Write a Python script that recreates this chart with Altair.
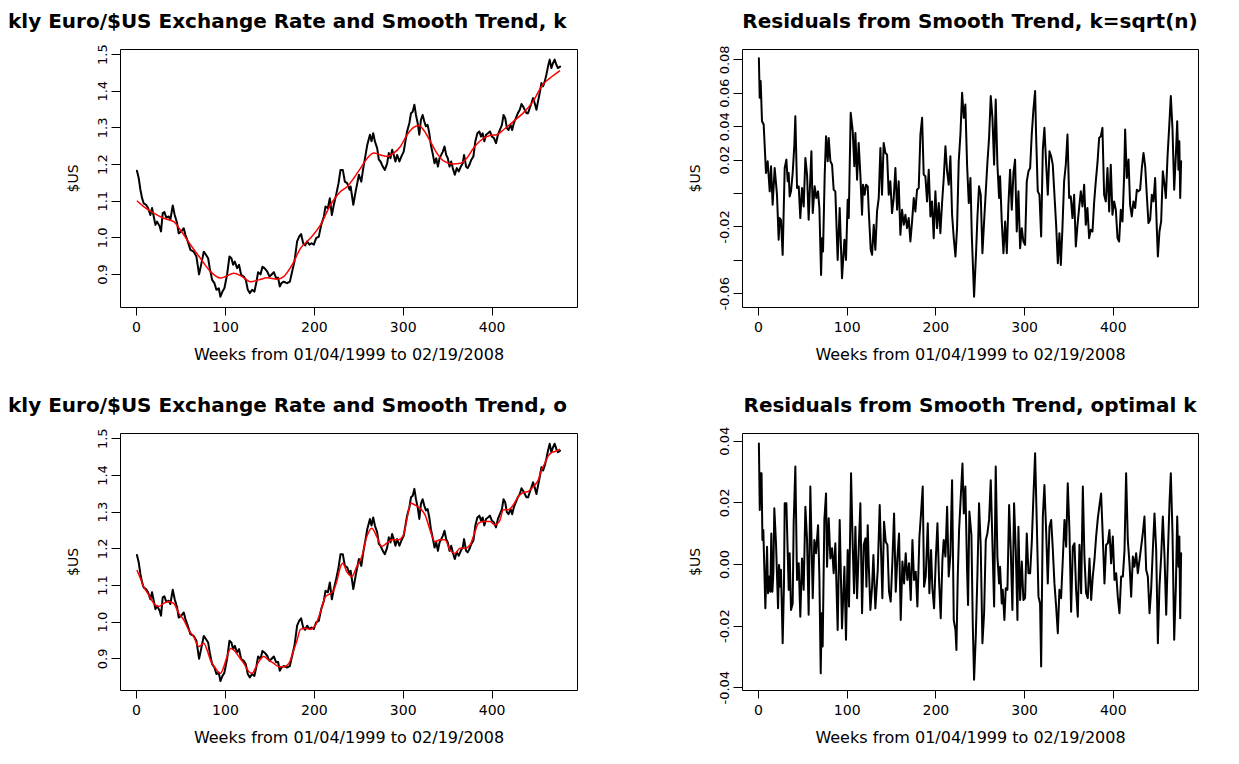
import altair as alt
import pandas as pd

# ---------------- data ----------------
rate_week = [1, 3, 4.9, 6.8, 8.6, 11.3, 13.5, 16.1, 18, 19.9,
             21.8, 23.6, 26.6, 28.1, 30, 31.9, 34.1, 36.8, 38.6, 41.3,
             43.5, 46.2, 48, 50.7, 53.7, 55.5, 58.2, 61.2, 64.9, 67.9,
             70.9, 73.2, 76.2, 78.8, 81.1, 82.9, 85.6, 88.2, 90.4, 93.1,
             94.9, 97.2, 99.4, 102.4, 105.1, 107.3, 109.2, 111.1, 113.7, 115.9,
             118.2, 121.2, 123.5, 125.7, 128, 130.6, 133.2, 135.5, 137.3, 140,
             142.2, 144.5, 147.5, 150.1, 152.3, 155, 157.6, 159.8, 161.7, 163.6,
             166.2, 170, 173, 175.6, 178.2, 181.2, 183.5, 185.7, 188, 190.2,
             192.5, 195.1, 197.4, 200, 202.6, 205.6, 208.3, 211.3, 213.1, 215.8,
             218, 220.3, 222.5, 225.1, 227.8, 230, 232.6, 234.9, 237.5, 240.2,
             241.4, 244.4, 247, 248.9, 250.7, 253.4, 255.6, 258.2, 260.1, 263.1,
             264.9, 266.8, 268.7, 271.3, 273.1, 275, 277.6, 279.9, 282.5, 284.3,
             286.2, 288.1, 289.9, 291.8, 293.7, 296.3, 298.5, 301.1, 303, 304.9,
             307.5, 309.3, 311.2, 313.1, 314.9, 316.8, 318.7, 320.5, 322.4, 324.3,
             326.1, 328, 329.9, 331.7, 334, 335.8, 337.7, 339.6, 341.4, 343.3,
             345.1, 347, 348.9, 350.7, 352.6, 354.5, 356.3, 358.6, 360.8, 363.1,
             365.3, 367.5, 369, 371.3, 373.1, 375, 377.2, 379.5, 381.7, 384,
             386.2, 388.1, 389.9, 391.8, 393.7, 395.9, 398.1, 400.4, 402.6, 404.9,
             407.1, 409.3, 411.6, 413.4, 415.3, 417.2, 419, 421.3, 423.1, 425,
             427.2, 429.5, 431.7, 433.6, 435.4, 437.3, 439.2, 441, 442.9, 444.8,
             446.6, 448.5, 450.4, 452.2, 454.1, 456, 457.8, 459.7, 461.6, 463.4,
             465.3, 467.2, 469, 470.9, 472.8, 474.6, 477]
rate = [1.182, 1.162, 1.130, 1.107, 1.093, 1.089, 1.080, 1.061, 1.080, 1.057,
        1.034, 1.043, 1.030, 1.016, 1.066, 1.069, 1.054, 1.057, 1.048, 1.087,
        1.061, 1.039, 1.011, 1.016, 1.025, 1.007, 0.989, 0.966, 0.961, 0.948,
        0.899, 0.925, 0.961, 0.952, 0.943, 0.916, 0.884, 0.875, 0.857, 0.861,
        0.838, 0.852, 0.861, 0.898, 0.948, 0.943, 0.925, 0.934, 0.916, 0.925,
        0.898, 0.893, 0.884, 0.857, 0.848, 0.857, 0.852, 0.879, 0.905, 0.899,
        0.920, 0.916, 0.907, 0.893, 0.898, 0.905, 0.889, 0.890, 0.866, 0.875,
        0.879, 0.875, 0.879, 0.907, 0.934, 0.989, 1.002, 1.009, 0.984, 0.978,
        0.989, 0.980, 0.984, 0.980, 0.998, 1.002, 1.034, 1.057, 1.084, 1.080,
        1.107, 1.061, 1.089, 1.116, 1.148, 1.184, 1.184, 1.152, 1.148, 1.130,
        1.139, 1.089, 1.125, 1.148, 1.171, 1.152, 1.189, 1.225, 1.252, 1.280,
        1.262, 1.284, 1.262, 1.243, 1.212, 1.207, 1.193, 1.184, 1.202, 1.230,
        1.216, 1.239, 1.225, 1.207, 1.225, 1.207, 1.221, 1.234, 1.262, 1.289,
        1.312, 1.339, 1.343, 1.362, 1.334, 1.312, 1.280, 1.321, 1.334, 1.316,
        1.303, 1.307, 1.284, 1.252, 1.225, 1.202, 1.216, 1.193, 1.216, 1.225,
        1.234, 1.248, 1.225, 1.216, 1.193, 1.207, 1.189, 1.171, 1.189, 1.180,
        1.193, 1.202, 1.225, 1.193, 1.189, 1.198, 1.212, 1.221, 1.262, 1.284,
        1.289, 1.275, 1.284, 1.262, 1.280, 1.284, 1.289, 1.275, 1.271, 1.257,
        1.280, 1.293, 1.307, 1.334, 1.325, 1.298, 1.293, 1.307, 1.293, 1.312,
        1.325, 1.339, 1.348, 1.364, 1.357, 1.348, 1.339, 1.339, 1.353, 1.366,
        1.380, 1.366, 1.348, 1.371, 1.394, 1.421, 1.412, 1.425, 1.444, 1.466,
        1.485, 1.462, 1.475, 1.485, 1.471, 1.462, 1.466]

trend_sqrt_week = [1, 8.6, 19.9, 31.1, 42.4, 49.9, 61.2, 72.4, 83.7, 94.9,
                   100.6, 109.9, 119.3, 128.7, 138.1, 147.5, 158.7, 166.2, 175.6, 185,
                   196.2, 207.5, 218.8, 230, 237.7, 245.1, 252.6, 260.1, 267.5, 275,
                   282.5, 289.9, 297.4, 304.9, 312.3, 317.9, 323.5, 331, 338.4, 345.9,
                   357.1, 364.6, 372, 379.5, 386.9, 398.1, 405.6, 413.1, 424.3, 435.4,
                   446.6, 457.8, 465.3, 477]
trend_sqrt = [1.100, 1.084, 1.066, 1.052, 1.043, 1.020, 0.980, 0.943, 0.907, 0.889,
              0.893, 0.902, 0.893, 0.879, 0.884, 0.890, 0.886, 0.893, 0.925, 0.970,
              0.998, 1.034, 1.089, 1.125, 1.139, 1.162, 1.189, 1.216, 1.230, 1.225,
              1.221, 1.230, 1.248, 1.280, 1.300, 1.305, 1.293, 1.262, 1.230, 1.209,
              1.200, 1.202, 1.216, 1.243, 1.263, 1.278, 1.280, 1.293, 1.316, 1.339,
              1.371, 1.418, 1.434, 1.455]

trend_opt_week = [1, 4.9, 8.6, 14.3, 19.9, 25.5, 31.1, 36.8, 42.4, 48,
                  53.7, 59.3, 64.9, 70.5, 76.2, 79.9, 83.7, 89.3, 94.9, 98.7,
                  102.4, 106.2, 109.9, 115.6, 121.2, 126.8, 130.6, 134.3, 138.1, 143.7,
                  149.3, 155, 160.6, 166.2, 171.9, 177.5, 181.2, 185, 190.6, 196.2,
                  201.9, 207.5, 213.1, 218.8, 222.5, 226.3, 230, 232.6,
                  237.1, 242.7, 248.3, 253.9, 259.6, 265.2, 270.8, 276.4, 282, 287.6,
                  295.1, 300.7, 304.5, 309, 313.9, 319.5, 325.1, 330.7, 336.3, 341.9,
                  347.6, 353.2, 358.8, 364.4, 370, 375.7, 381.3, 385, 390.6, 398.1,
                  403.7, 409.4, 413.1, 418.7, 424.3, 430, 435.6, 441.2, 446.8, 452.4,
                  456.2, 459.9, 463.7, 467.4, 471.2, 477]
trend_opt = [1.141, 1.118, 1.095, 1.073, 1.050, 1.041, 1.050, 1.055, 1.050, 1.023,
             1.005, 0.977, 0.959, 0.932, 0.941, 0.923, 0.895, 0.873, 0.859, 0.877,
             0.905, 0.927, 0.923, 0.905, 0.886, 0.864, 0.859, 0.873, 0.891, 0.905,
             0.895, 0.886, 0.877, 0.877, 0.886, 0.923, 0.950, 0.979, 0.982, 0.979,
             0.991, 1.027, 1.068, 1.077, 1.086, 1.114, 1.150, 1.159,
             1.136, 1.123, 1.150, 1.177, 1.232, 1.255, 1.232, 1.205, 1.214, 1.223,
             1.223, 1.236, 1.277, 1.323, 1.318, 1.309, 1.291, 1.250, 1.218, 1.223,
             1.223, 1.195, 1.186, 1.200, 1.200, 1.209, 1.245, 1.268, 1.273, 1.273,
             1.264, 1.277, 1.305, 1.305, 1.318, 1.341, 1.352, 1.355, 1.368, 1.386,
             1.414, 1.432, 1.452, 1.461, 1.464, 1.470]

resid_sqrt_week = [1, 1.9, 3, 4.5, 6.4, 9, 10.9, 13.2, 14.7, 16.5,
                   18.8, 21.4, 23.3, 24.4, 25.9, 27.8, 30.1, 32, 33.5, 34.6,
                   35.7, 37.2, 39.1, 41, 42.1, 44, 45.9, 47.7, 49.6, 51.5,
                   53.4, 55.3, 57.1, 60.2, 61.7, 63.9, 65.8, 67.7, 69.2, 71.1,
                   72.2, 73.3, 75.2, 76.7, 78.6, 79.7, 81.6, 83.5, 85.3, 87.2,
                   89.8, 92.1, 94.7, 97.4, 99.2, 101.1, 102.3, 104.5, 106.8, 108.6,
                   109.8, 111.7, 113.5, 115.4, 117.3, 118.4, 120.3, 121.8, 123.7, 124.8,
                   127.1, 128.6, 130.5, 132.3, 134.2, 136.1, 138, 139.8, 141.7, 143.6,
                   145.5, 147.4, 149.2, 151.1, 153, 154.9, 156.8, 158.6, 160.5, 162.4,
                   164.3, 166.2, 168, 169.9, 171.8, 173.7, 175.6, 177.4, 179.3, 181.2,
                   183.1, 185, 186.8, 188.7, 190.6, 192.5, 194.4, 196.2, 198.1, 200,
                   201.9, 203.8, 205.6, 207.5, 209.4, 211.3, 213.2, 215, 216.9, 218.8,
                   220.7, 222.6, 224.4, 226.3, 228.2, 230.1, 232, 233.8, 235.7, 237.6,
                   239.5,
                   241, 243.6, 245.9, 247.4, 249.2, 251.1, 253, 254.9, 256.8, 258.6,
                   260.5, 262.4, 264.3, 266.2, 268, 269.9, 271.8, 272.9, 274.8, 276.7,
                   278.6, 280.5, 282.3, 284.2, 286.1, 288, 289.8, 291.7, 293.6, 295.5,
                   297.4, 299.2, 301.1, 303, 304.9, 306.8, 308.6, 310.5, 312.4, 313.5,
                   315.4, 317.3, 319.2, 321.1, 322.9, 324.8, 326.7, 328.6, 330.5, 332.3,
                   334.2, 336.1, 338, 339.8, 341.4, 343.2, 345.1, 347, 348.9, 350.8,
                   352.6, 354.5, 356.4, 358.3, 360.2, 362, 363.9, 365.8, 367.7, 369.5,
                   371.4, 373.3, 375.2, 377.1, 378.9, 380.8, 382.7, 384.6, 386.5, 388.3,
                   390.2, 392.1, 394, 395.9, 397.7, 399.6, 401.5, 403.4, 405.3, 407.1,
                   409, 410.9, 412.8, 413.9, 415.8, 417.7, 419.5, 421.4, 423.3, 425.2,
                   427.1, 428.9, 430.8, 432.7, 434.6, 436.5, 438.3, 440.2, 442.1, 444,
                   445.9, 447.7, 449.6, 450.8, 452.6, 454.5, 456.4, 458.3, 459.8, 461.7,
                   463.5, 465.4, 467.3, 469.2, 471.1, 472.6, 474, 475, 476, 477]
resid_sqrt = [0.0806, 0.057, 0.067, 0.043, 0.041, 0.012, 0.019, 0.001, 0.016, -0.007,
              0.015, -0.001, -0.028, -0.015, -0.016, -0.037, 0.015, 0.020, 0.007, 0.012,
              -0.002, 0.001, 0.012, 0.029, 0.046, 0.003, 0.004, -0.015, 0.003, -0.008,
              0.021, 0.011, -0.016, 0.025, -0.012, 0.004, -0.003, 0.001, -0.009, -0.049,
              -0.027, -0.035, 0.011, 0.034, 0.019, 0.033, 0.019, 0.017, 0.002, 0.001,
              -0.040, -0.009, -0.051, -0.028, -0.040, -0.004, -0.015, 0.048, 0.037, 0.016,
              0.036, 0.008, 0.030, 0.011, -0.013, 0.005, -0.001, 0.005, 0.004, -0.010,
              -0.034, -0.037, -0.019, -0.034, -0.011, -0.003, 0.027, -0.001, 0.030, 0.024,
              0.023, -0.001, 0.007, -0.012, -0.003, 0.015, -0.010, 0.007, -0.025, -0.010,
              -0.019, -0.013, -0.021, -0.015, -0.029, -0.017, -0.003, -0.011, 0.002, 0.003,
              0.035, 0.045, 0.011, 0.010, -0.005, 0.014, -0.014, -0.005, -0.027, 0.001,
              -0.021, -0.006, -0.024, -0.006, 0.009, 0.028, 0.013, 0.005, 0.022, -0.013,
              -0.027, -0.038, -0.021, 0.019, 0.035, 0.060, 0.045, 0.053, 0.017, -0.006,
              0.009,
              -0.025, -0.062, -0.035, -0.014, 0.004, -0.001, -0.036, -0.017, 0.001, 0.018,
              0.033, 0.058, 0.045, 0.017, 0.056, 0.017, -0.003, 0.010, -0.017, -0.036,
              -0.017, -0.036, -0.007, 0.014, -0.010, 0.012, 0.020, -0.023, 0.001, -0.033,
              -0.021, -0.029, -0.031, 0.007, 0.013, 0.015, 0.035, 0.050, 0.061, 0.035,
              0.001, -0.001, -0.026, 0.026, 0.039, 0.018, -0.001, 0.025, 0.022, 0.017,
              -0.001, -0.019, -0.042, -0.024, -0.043, -0.021, 0.007, 0.017, 0.035, -0.003,
              -0.002, -0.015, -0.001, -0.032, -0.019, -0.009, 0.001, -0.008, 0.005, -0.019,
              -0.009, -0.027, -0.022, -0.023, -0.006, 0.007, 0.018, 0.033, 0.034, 0.039,
              -0.001, -0.005, 0.015, -0.011, 0.017, -0.013, -0.005, -0.010, -0.027, -0.029,
              -0.010, -0.017, 0.011, 0.038, 0.009, 0.020, -0.007, -0.014, -0.005, -0.009,
              0.002, 0.001, 0.002, 0.015, 0.024, 0.016, -0.001, -0.018, -0.016, -0.001,
              -0.005, 0.009, -0.021, -0.038, -0.023, -0.017, 0.013, 0.005, -0.003, 0.022,
              0.039, 0.058, 0.038, 0.002, 0.023, 0.043, 0.014, 0.031, -0.003, 0.019]

resid_opt_week = [1, 2, 3, 4, 5, 6, 8.3, 10.2, 11.3, 12.8,
                  13.9, 15, 16.2, 17.3, 18.4, 20.3, 22.6, 23.7, 25.2, 25.9,
                  27.8, 29.3, 30.1, 32, 33.5, 34.6, 35.7, 37.2, 39.1, 40.2,
                  42.1, 44, 45.9, 47.7, 49.6, 51.5, 53.4, 55.3, 57.1, 59,
                  61.7, 63.5, 65.4, 67.7, 69.2, 70.7, 71.8, 72.9, 74.8, 76.7,
                  77.8, 79.7, 81.6, 83.5, 85.3, 87.2, 89.8, 92.1, 94.7, 97.4,
                  99.2, 101.1, 102.6, 104.9, 106.8, 108.3, 109.8, 111.7, 113.5, 115.4,
                  117.3, 119.2, 121.1, 122.2, 123.7, 124.8, 126.7, 128.6, 130.1, 132.3,
                  135, 137.2, 138.7, 140.2, 142.1, 144, 145.9, 147.7, 149.6, 151.5,
                  153.4, 155.3, 157.1, 159, 160.9, 162.8, 164.7, 166.5, 168.4, 170.3,
                  172.2, 174.1, 175.9, 177.8, 179.7, 182, 183.8, 185.7, 187.2, 189.1,
                  191.4, 193.2, 195.1, 196.6, 198.5, 200.4, 202.3, 204.1, 206, 207.9,
                  209.4, 211.3, 213.2, 215, 216.9, 218.8, 220.7, 222.6, 223.7, 225.2,
                  226.7, 228.6, 230.5, 232, 233.8, 235.7, 236.8, 238.3, 240.6, 242.1,
                  243.6,
                  245.5, 247.4, 249.2, 251.1, 253, 254.9, 256.8, 258.6, 260.5, 262.4,
                  264.3, 266.2, 268, 269.9, 271.8, 272.9, 274.8, 275.9, 277.8, 279.3,
                  281.2, 283.1, 285, 286.8, 288.7, 290.6, 292.5, 293.6, 295.5, 297.4,
                  299.2, 301.1, 303, 304.9, 306.8, 308.6, 310.5, 312.4, 314.3, 316.2,
                  318, 319.2, 321.1, 322.9, 324.8, 326.7, 328.6, 330.5, 332.3, 334.2,
                  336.1, 338, 339.8, 341.7, 343.6, 345.5, 347.4, 349.2, 351.1, 353,
                  354.9, 356.8, 358.6, 360.5, 362.4, 364.3, 366.2, 368, 369.9, 371.8,
                  373.7, 375.6, 377.4, 379.3, 381.2, 383.1, 385, 386.8, 388.7, 390.6,
                  392.5, 394.4, 396.2, 398.1, 400, 401.9, 403.8, 405.6, 407.5, 409.4,
                  411.3, 413.2, 415, 416.9, 418.8, 420.7, 422.6, 424.4, 426.3, 428.2,
                  430.1, 432, 433.8, 435.7, 437.6, 439.5, 441.4, 443.2, 445.1, 447,
                  448.9, 450.8, 452.6, 454.5, 456.4, 458.3, 460.2, 462, 463.9, 465.4,
                  467.3, 469.2, 471.1, 472.6, 474, 475, 476, 477]
resid_opt = [0.0391, 0.0175, 0.0294, 0.0294, 0.0078, 0.0110, -0.0144, 0.0056, -0.0095, -0.0041,
             -0.0090, 0.0099, -0.0090, -0.0030, 0.0181, 0.0067, -0.0144, -0.0003, -0.0074, -0.0019,
             -0.0257, -0.0063, 0.0197, 0.0197, 0.0035, -0.0084, 0.0035, -0.0149, -0.0128, 0.0132,
             0.0316, -0.0052, 0.0002, -0.0171, 0.0018, -0.0084, 0.0186, 0.0078, -0.0165, 0.0251,
             -0.0111, 0.0078, 0.0035, 0.0126, -0.0041, -0.0355, -0.0160, -0.0268, 0.0143, 0.0229,
             -0.0009, 0.0148, 0.0018, 0.0051, -0.0030, 0.0067, -0.0214, 0.0143, -0.0209, -0.0009,
             -0.0246, 0.0045, -0.0138, 0.0294, 0.0056, -0.0095, 0.0121, -0.0111, 0.0045, 0.0197,
             -0.0160, 0.0062, 0.0083, -0.0074, 0.0126, 0.0002, -0.0149, -0.0074, 0.0029, -0.0144,
             -0.0019, 0.0191, 0.0045, -0.0111, 0.0137, 0.0072, 0.0062, -0.0090, -0.0122, 0.0008,
             0.0164, -0.0090, 0.0018, 0.0099, -0.0182, 0.0008, -0.0063, 0.0035, -0.0052, 0.0002,
             -0.0117, 0.0078, -0.0052, -0.0025, -0.0138, 0.0089, 0.0164, 0.0251, -0.0074, -0.0041,
             0.0132, -0.0095, 0.0045, -0.0079, -0.0144, 0.0013, 0.0132, -0.0052, -0.0176, 0.0013,
             0.0078, 0.0024, 0.0186, -0.0041, 0.0029, 0.0272, -0.0182, -0.0214, -0.0279, -0.0041,
             0.0110, 0.0218, 0.0326, 0.0164, 0.0251, -0.0019, -0.0133, 0.0170, 0.0094, -0.0192,
             -0.0376,
             -0.0236, -0.0030, 0.0197, 0.0056, -0.0257, -0.0160, 0.0078, 0.0099, 0.0143, 0.0272,
             0.0067, -0.0138, 0.0316, 0.0024, -0.0063, -0.0009, -0.0128, -0.0084, -0.0182, -0.0079,
             -0.0084, 0.0191, 0.0040, -0.0149, 0.0197, 0.0045, -0.0182, 0.0121, -0.0117, 0.0008,
             -0.0117, -0.0111, 0.0099, -0.0030, -0.0030, 0.0067, 0.0218, 0.0359, 0.0132, -0.0106,
             -0.0128, -0.0333, 0.0154, 0.0256, 0.0110, -0.0063, 0.0121, 0.0143, 0.0051, -0.0063,
             -0.0138, -0.0225, -0.0084, -0.0111, 0.0013, 0.0143, 0.0056, 0.0262, 0.0110, -0.0155,
             0.0056, 0.0067, -0.0084, -0.0171, 0.0062, -0.0095, 0.0251, 0.0024, -0.0095, -0.0111,
             0.0018, -0.0117, -0.0041, 0.0013, 0.0089, 0.0148, 0.0191, 0.0229, 0.0089, -0.0063,
             0.0062, 0.0067, 0.0110, 0.0002, 0.0089, -0.0052, -0.0030, -0.0106, -0.0160, -0.0041,
             -0.0041, 0.0045, 0.0294, 0.0078, 0.0002, -0.0106, 0.0024, -0.0009, 0.0035, -0.0030,
             0.0013, 0.0056, 0.0099, 0.0154, -0.0019, -0.0041, -0.0160, -0.0084, 0.0045, 0.0164,
             0.0045, -0.0257, -0.0074, 0.0024, 0.0154, 0.0024, -0.0165, 0.0024, 0.0197, 0.0294,
             0.0099, -0.0246, -0.0074, 0.0154, -0.0009, 0.0089, -0.0176, 0.0035]

x_ticks = [0, 100, 200, 300, 400]
rate_ticks = [0.9, 1.0, 1.1, 1.2, 1.3, 1.4, 1.5]
resid_sqrt_ticks = [-0.06, -0.04, -0.02, 0.0, 0.02, 0.04, 0.06, 0.08]
resid_opt_ticks = [-0.04, -0.02, 0.0, 0.02, 0.04]

title_tl = "kly Euro/$US Exchange Rate and Smooth Trend, k"
title_tr = "Residuals from Smooth Trend, k=sqrt(n)"
title_bl = "kly Euro/$US Exchange Rate and Smooth Trend, o"
title_br = "Residuals from Smooth Trend, optimal k"
x_title = "Weeks from 01/04/1999 to 02/19/2008"
y_title = "$US"

# ---------------- layout / style ----------------
FONT = "DejaVu Sans"
X_DOMAIN = [-18.04, 496.04]
W_L, W_R = 457, 456
H_T, H_B = 258, 257


def frame(week, vals):
    return pd.DataFrame({"week": week, "value": vals})


def enc_x(width):
    return alt.X("week:Q",
                 scale=alt.Scale(domain=X_DOMAIN, nice=False, zero=False),
                 axis=alt.Axis(values=x_ticks, format="d", grid=False, domain=False,
                               tickSize=8, tickColor="black", tickWidth=1,
                               labelFont=FONT, labelFontSize=14, labelColor="black",
                               labelPadding=5, labelFlush=False, labelOverlap=False,
                               title=x_title, titleFont=FONT, titleFontSize=16,
                               titleFontWeight="normal", titleColor="black",
                               titleX=width / 2, titleY=47, titleAlign="center",
                               titleBaseline="middle"))


def enc_y(domain, ticks, label_expr, height):
    return alt.Y("value:Q",
                 scale=alt.Scale(domain=domain, nice=False, zero=False),
                 axis=alt.Axis(values=ticks, labelExpr=label_expr, grid=False, domain=False,
                               tickSize=9, tickColor="black", tickWidth=1,
                               labelFont=FONT, labelFontSize=13, labelColor="black",
                               labelAngle=-90, labelAlign="center", labelBaseline="bottom",
                               labelPadding=2, labelOverlap=False, labelFlush=False,
                               title=y_title, titleFont=FONT, titleFontSize=14,
                               titleFontWeight="normal", titleColor="black",
                               titleAngle=270, titleX=-47, titleY=height / 2,
                               titleAlign="center", titleBaseline="middle"))


def title_layer(text, x, align):
    return alt.Chart(pd.DataFrame({"t": [text]})).mark_text(
        font=FONT, fontSize=20, fontWeight="bold", color="black",
        align=align, baseline="middle"
    ).encode(x=alt.value(x), y=alt.value(-27), text="t:N")


def black_line(df, ex, ey):
    return alt.Chart(df).mark_line(color="black", strokeWidth=2,
                                   strokeJoin="round", strokeCap="round").encode(x=ex, y=ey)


def red_line(df, ex, ey):
    return alt.Chart(df).mark_line(color="#FF0000", strokeWidth=1.5,
                                   interpolate="monotone").encode(x=ex, y=ey)


expr_rate = "format(datum.value, '.1f')"
expr_sqrt = ("(abs(datum.value) < 1e-9 || abs(datum.value + 0.04) < 1e-9) ? '' : "
             "(datum.value < 0 ? '-' + format(-datum.value, '.2f') : format(datum.value, '.2f'))")
expr_opt = "datum.value < -1e-9 ? '-' + format(-datum.value, '.2f') : format(abs(datum.value), '.2f')"

# top-left
ex1, ey1 = enc_x(W_L), enc_y([0.81, 1.514], rate_ticks, expr_rate, H_T)
p1 = alt.layer(
    black_line(frame(rate_week, rate), ex1, ey1),
    red_line(frame(trend_sqrt_week, trend_sqrt), ex1, ey1),
    title_layer(title_tl, -112, "left"),
).properties(width=W_L, height=H_T)

# top-right
ex2, ey2 = enc_x(W_R), enc_y([-0.0682, 0.0862], resid_sqrt_ticks, expr_sqrt, H_T)
p2 = alt.layer(
    black_line(frame(resid_sqrt_week, resid_sqrt), ex2, ey2),
    title_layer(title_tr, W_R / 2, "center"),
).properties(width=W_R, height=H_T)

# bottom-left
ex3, ey3 = enc_x(W_L), enc_y([0.8136, 1.5144], rate_ticks, expr_rate, H_B)
p3 = alt.layer(
    black_line(frame(rate_week, rate), ex3, ey3),
    red_line(frame(trend_opt_week, trend_opt), ex3, ey3),
    title_layer(title_bl, -112, "left"),
).properties(width=W_L, height=H_B)

# bottom-right
ex4, ey4 = enc_x(W_R), enc_y([-0.0409, 0.0425], resid_opt_ticks, expr_opt, H_B)
p4 = alt.layer(
    black_line(frame(resid_opt_week, resid_opt), ex4, ey4),
    title_layer(title_br, W_R / 2, "center"),
).properties(width=W_R, height=H_B)

chart = alt.concat(
    p1, p2, p3, p4, columns=2,
    spacing={"row": 126, "column": 165}, bounds="flush"
).properties(
    autosize=alt.AutoSizeParams(type="none"),
    padding={"left": 112, "top": 41, "right": 1111, "bottom": 707},
    background="white",
).configure_view(stroke="black", strokeWidth=1)

chart.save("out.html", embed_options={"renderer": "svg", "actions": False})
